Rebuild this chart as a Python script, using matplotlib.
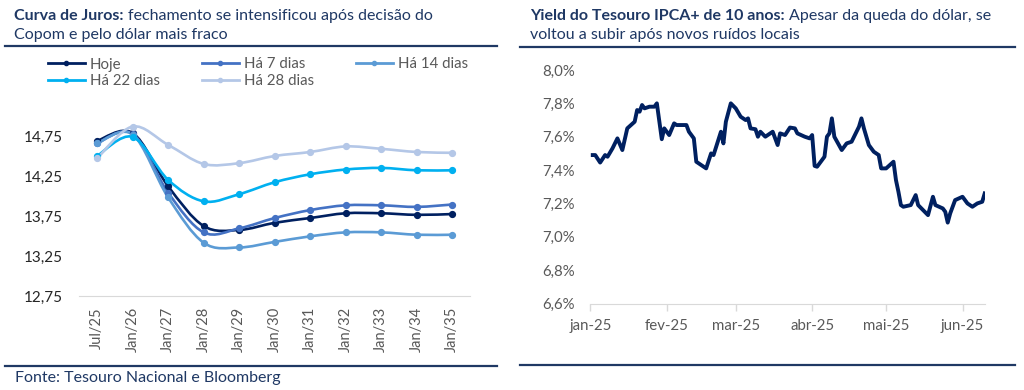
import matplotlib
matplotlib.use("Agg")
import matplotlib.pyplot as plt
import numpy as np
import pandas as pd
from matplotlib.lines import Line2D
from matplotlib.path import Path
from matplotlib.patches import PathPatch
from matplotlib.ticker import FuncFormatter

plt.rcParams["font.family"] = ["Lato", "DejaVu Sans"]

NAVY = "#1F3864"
GRAY_TEXT = "#595959"
AXIS_GRAY = "#D9D9D9"

# --- left chart: yield curve -------------------------------------------------
vertices = ["Jul/25", "Jan/26", "Jan/27", "Jan/28", "Jan/29", "Jan/30",
            "Jan/31", "Jan/32", "Jan/33", "Jan/34", "Jan/35"]
hoje = [14.70, 14.80, 14.13, 13.63, 13.58, 13.67, 13.73, 13.79, 13.79, 13.77, 13.78]
ha_7 = [14.67, 14.79, 14.05, 13.55, 13.60, 13.73, 13.83, 13.89, 13.89, 13.87, 13.90]
ha_14 = [14.67, 14.78, 13.99, 13.42, 13.36, 13.43, 13.50, 13.55, 13.55, 13.52, 13.52]
ha_22 = [14.51, 14.75, 14.21, 13.94, 14.03, 14.18, 14.28, 14.34, 14.36, 14.33, 14.33]
ha_28 = [14.48, 14.88, 14.65, 14.41, 14.42, 14.51, 14.56, 14.63, 14.60, 14.56, 14.55]
curve_labels = ["Hoje", "Há 7 dias", "Há 14 dias", "Há 22 dias", "Há 28 dias"]
curve_colors = ["#002060", "#4472C4", "#5B9BD5", "#00B0F0", "#B4C7E7"]
curve_ticks = [12.75, 13.25, 13.75, 14.25, 14.75]

# --- right chart: IPCA+ 10y yield -------------------------------------------
ipca_dates = [
    "2025-01-02", "2025-01-03", "2025-01-05", "2025-01-07", "2025-01-08", "2025-01-10",
    "2025-01-12", "2025-01-14", "2025-01-16", "2025-01-19", "2025-01-20", "2025-01-21",
    "2025-01-22", "2025-01-23", "2025-01-25", "2025-01-27", "2025-01-28", "2025-01-30",
    "2025-01-31", "2025-02-02", "2025-02-04", "2025-02-05", "2025-02-09", "2025-02-10",
    "2025-02-12", "2025-02-13", "2025-02-15", "2025-02-17", "2025-02-19", "2025-02-20",
    "2025-02-23", "2025-02-24", "2025-02-25", "2025-02-27", "2025-03-01", "2025-03-03",
    "2025-03-05", "2025-03-06", "2025-03-07", "2025-03-09", "2025-03-10", "2025-03-11",
    "2025-03-13", "2025-03-16", "2025-03-18", "2025-03-19", "2025-03-21", "2025-03-23",
    "2025-03-25", "2025-03-26", "2025-03-29", "2025-03-31", "2025-04-01", "2025-04-02",
    "2025-04-03", "2025-04-06", "2025-04-07", "2025-04-08", "2025-04-09", "2025-04-10",
    "2025-04-13", "2025-04-15", "2025-04-17", "2025-04-20", "2025-04-21", "2025-04-22",
    "2025-04-24", "2025-04-26", "2025-04-28", "2025-04-29", "2025-05-01", "2025-05-04",
    "2025-05-05", "2025-05-06", "2025-05-07", "2025-05-08", "2025-05-11", "2025-05-13",
    "2025-05-14", "2025-05-16", "2025-05-18", "2025-05-20", "2025-05-21", "2025-05-24",
    "2025-05-25", "2025-05-26", "2025-05-27", "2025-05-29", "2025-06-01", "2025-06-03",
    "2025-06-05", "2025-06-07", "2025-06-09", "2025-06-10",
]
ipca_yield = [
    7.49, 7.49, 7.445, 7.49, 7.48, 7.53,
    7.59, 7.52, 7.65, 7.69, 7.76, 7.75,
    7.79, 7.77, 7.78, 7.78, 7.80, 7.585,
    7.65, 7.61, 7.68, 7.67, 7.67, 7.63,
    7.59, 7.45, 7.43, 7.41, 7.50, 7.49,
    7.63, 7.56, 7.69, 7.80, 7.77, 7.72,
    7.70, 7.71, 7.65, 7.645, 7.60, 7.63,
    7.60, 7.63, 7.55, 7.62, 7.61, 7.655,
    7.65, 7.62, 7.60, 7.59, 7.61, 7.425,
    7.42, 7.48, 7.60, 7.62, 7.71, 7.60,
    7.52, 7.56, 7.57, 7.66, 7.71, 7.65,
    7.55, 7.51, 7.49, 7.41, 7.41, 7.45,
    7.34, 7.27, 7.19, 7.18, 7.19, 7.25,
    7.19, 7.16, 7.13, 7.24, 7.19, 7.17,
    7.15, 7.085, 7.14, 7.22, 7.24, 7.20,
    7.18, 7.20, 7.21, 7.26,
]
month_ticks = ["2025-01-01", "2025-02-01", "2025-03-01", "2025-04-01", "2025-05-01", "2025-06-01"]
month_labels = ["jan-25", "fev-25", "mar-25", "abr-25", "mai-25", "jun-25"]
ipca_ticks = [6.6, 6.8, 7.0, 7.2, 7.4, 7.6, 7.8, 8.0]


def smooth_path(x, y):
    # Excel-style smoothed line: cubic bezier through every point
    pts = np.column_stack([x, y]).astype(float)
    n = len(pts)
    verts = [pts[0]]
    codes = [Path.MOVETO]
    for i in range(n - 1):
        p0 = pts[i - 1] if i > 0 else pts[i]
        p1, p2 = pts[i], pts[i + 1]
        p3 = pts[i + 2] if i + 2 < n else pts[i + 1]
        verts += [p1 + (p2 - p0) / 6, p2 - (p3 - p1) / 6, p2]
        codes += [Path.CURVE4] * 3
    return Path(verts, codes)


def comma(fmt):
    return FuncFormatter(lambda v, _: fmt.format(v).replace(".", ","))


def title(fig, x, y, bold, rest, line2, size=11.5):
    renderer = fig.canvas.get_renderer()
    t = fig.text(x, y, bold, fontsize=size, fontweight="bold", color=NAVY, va="baseline")
    bb = t.get_window_extent(renderer)
    fig.text(bb.x1 / fig.bbox.width + 0.004, y, rest, fontsize=size, color=NAVY, va="baseline")
    fig.text(x, y - 19 / 390, line2, fontsize=size, color=NAVY, va="baseline")


def rule(fig, x0, x1, y):
    fig.add_artist(Line2D([x0 / 1024, x1 / 1024], [1 - y / 390, 1 - y / 390],
                          color=NAVY, lw=1.6, transform=fig.transFigure))


fig = plt.figure(figsize=(10.24, 3.9), dpi=100)

# left panel
ax1 = fig.add_axes([79.3 / 1024, 1 - 296 / 390, 390.7 / 1024, 179 / 390])
xpos = np.arange(len(vertices))
series = [hoje, ha_7, ha_14, ha_22, ha_28]
for vals, color in zip(series, curve_colors):
    ax1.add_patch(PathPatch(smooth_path(xpos, vals), fill=False, edgecolor=color,
                            lw=1.9, capstyle="round", joinstyle="round"))
    ax1.plot(xpos, vals, ls="none", marker="o", ms=4.2, color=color)
ax1.set_xlim(-0.5, len(vertices) - 0.5)
ax1.set_ylim(12.75, 15.0)
ax1.set_yticks(curve_ticks)
ax1.yaxis.set_major_formatter(comma("{:.2f}"))
ax1.set_xticks(xpos)
ax1.set_xticklabels(vertices, rotation=90, va="top", ha="center")
ax1.tick_params(axis="x", length=0, pad=8, labelsize=10.5, colors=GRAY_TEXT)
ax1.tick_params(axis="y", length=0, pad=12, labelsize=11, colors="#262626")
for s in ["top", "right", "left"]:
    ax1.spines[s].set_visible(False)
ax1.spines["bottom"].set_color(AXIS_GRAY)

handles = [Line2D([], [], color=c, lw=2, marker="o", ms=3) for c in curve_colors]
order = [0, 3, 1, 4, 2]
fig.legend([handles[i] for i in order], [curve_labels[i] for i in order],
           loc="upper left", bbox_to_anchor=(40 / 1024, 1 - 50 / 390), ncol=3,
           frameon=False, fontsize=10.8, handlelength=2.5, handletextpad=0.3,
           columnspacing=2.8, labelspacing=0.15, labelcolor=GRAY_TEXT, borderpad=0)

# right panel
ax2 = fig.add_axes([590.3 / 1024, 1 - 303.5 / 390, 394.4 / 1024, 233.5 / 390])
ax2.plot(pd.to_datetime(ipca_dates), ipca_yield, color="#002060", lw=2.8,
         solid_joinstyle="round")
ax2.set_xlim(pd.Timestamp("2025-01-01"), pd.Timestamp("2025-06-10"))
ax2.set_ylim(6.6, 8.0)
ax2.set_yticks(ipca_ticks)
ax2.yaxis.set_major_formatter(comma("{:.1f}%"))
ax2.set_xticks(pd.to_datetime(month_ticks))
ax2.set_xticklabels(month_labels)
ax2.tick_params(axis="x", length=5, width=1, color=AXIS_GRAY, pad=6,
                labelsize=10.8, labelcolor=GRAY_TEXT)
ax2.tick_params(axis="y", length=0, pad=11, labelsize=10.8, colors=GRAY_TEXT)
for s in ["top", "right", "left"]:
    ax2.spines[s].set_visible(False)
ax2.spines["bottom"].set_color(AXIS_GRAY)

# titles, rules and source
title(fig, 14 / 1024, 1 - 20 / 390, "Curva de Juros:",
      "fechamento se intensificou após decisão do", "Copom e pelo dólar mais fraco")
title(fig, 530 / 1024, 1 - 20 / 390, "Yield do Tesouro IPCA+ de 10 anos:",
      "Apesar da queda do dólar, se", "voltou a subir após novos ruídos locais")
rule(fig, 5, 497, 46)
rule(fig, 520, 1015, 46.5)
rule(fig, 5, 497, 365.5)
rule(fig, 520, 1015, 365)
fig.text(15 / 1024, 1 - 382 / 390, "Fonte: Tesouro Nacional e Bloomberg",
         fontsize=11.5, color=NAVY, va="baseline")

fig.savefig("out.png", dpi=100)
